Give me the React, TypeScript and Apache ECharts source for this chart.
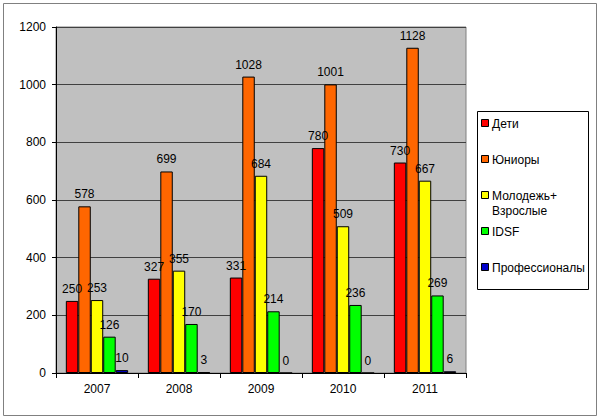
import React, { useEffect, useRef } from "react";
import * as echarts from "echarts";

const years = ["2007", "2008", "2009", "2010", "2011"];
const seriesNames = ["Дети", "Юниоры", "Молодежь+Взрослые", "IDSF", "Профессионалы"];
const legendLabels = ["Дети", "Юниоры", "Молодежь+\nВзрослые", "IDSF", "Профессионалы"];
const children = [250, 327, 331, 780, 730];
const juniors = [578, 699, 1028, 1001, 1128];
const youthAdults = [253, 355, 684, 509, 667];
const idsf = [126, 170, 214, 236, 269];
const professionals = [10, 3, 0, 0, 6];
const colors = ["#FF0000", "#FF6600", "#FFFF00", "#00FF00", "#0000CC"];
const yTicks = [0, 200, 400, 600, 800, 1000, 1200];

const FONT = "Liberation Sans, Arial, sans-serif";

export default function App() {
  const ref = useRef<HTMLDivElement>(null);
  useEffect(() => {
    if (!ref.current) return;
    const chart = echarts.init(ref.current, undefined, { renderer: "svg" });
    const values = [children, juniors, youthAdults, idsf, professionals];
    const legendTop = 111;
    const legendStep = 36;
    const legendGraphics: any[] = [
      {
        type: "rect",
        shape: { x: 477.5, y: legendTop + 0.5, width: 111, height: 178 },
        style: { fill: "#fff", stroke: "#000", lineWidth: 1 },
        z: 10,
      },
    ];
    legendLabels.forEach((lbl, i) => {
      const cy = legendTop + 12 + i * legendStep;
      legendGraphics.push({
        type: "rect",
        shape: { x: 481.5, y: cy - 3.5, width: 7, height: 7 },
        style: { fill: colors[i], stroke: "#000", lineWidth: 1 },
        z: 11,
      });
      legendGraphics.push({
        type: "text",
        x: 492,
        y: cy - 7,
        style: {
          text: lbl,
          fill: "#000",
          font: `12px ${FONT}`,
          lineHeight: 15,
          textVerticalAlign: "top",
        },
        z: 11,
      });
    });
    chart.setOption({
      animation: false,
      backgroundColor: "#fff",
      textStyle: { fontFamily: FONT },
      grid: {
        left: 56,
        top: 27,
        right: 134,
        bottom: 47,
        show: true,
        backgroundColor: "#C0C0C0",
        borderColor: "#808080",
        borderWidth: 1,
      },
      xAxis: {
        type: "category",
        data: years,
        boundaryGap: true,
        axisLine: { lineStyle: { color: "#000" } },
        axisTick: { show: true, length: 5, lineStyle: { color: "#000" } },
        axisLabel: { color: "#000", fontSize: 12, margin: 10, fontFamily: FONT },
      },
      yAxis: {
        type: "value",
        min: 0,
        max: 1200,
        interval: 200,
        axisLine: { show: true, lineStyle: { color: "#000" } },
        axisTick: { show: true, length: 4, lineStyle: { color: "#000" } },
        axisLabel: {
          color: "#000",
          fontSize: 12,
          margin: 10,
          fontFamily: FONT,
          formatter: (v: number) => (yTicks.includes(v) ? String(v) : ""),
        },
        splitLine: { show: true, lineStyle: { color: "#404040", width: 1 } },
      },
      series: seriesNames.map((name, i) => ({
        name,
        type: "bar",
        data: values[i],
        barGap: "0%",
        barCategoryGap: "24%",
        itemStyle: { color: colors[i], borderColor: "#000", borderWidth: 1 },
        label: {
          show: true,
          position: "top",
          distance: 6,
          color: "#000",
          fontSize: 12,
          fontFamily: FONT,
        },
      })),
      graphic: [
        {
          type: "rect",
          shape: { x: 3.5, y: 3.5, width: 593, height: 412 },
          style: { fill: "none", stroke: "#808080", lineWidth: 1 },
          z: 5,
          silent: true,
        },
        ...legendGraphics,
      ],
    });
    return () => chart.dispose();
  }, []);
  return (
    <div
      ref={ref}
      style={{ position: "absolute", left: 0, top: 0, width: 600, height: 420 }}
    />
  );
}
